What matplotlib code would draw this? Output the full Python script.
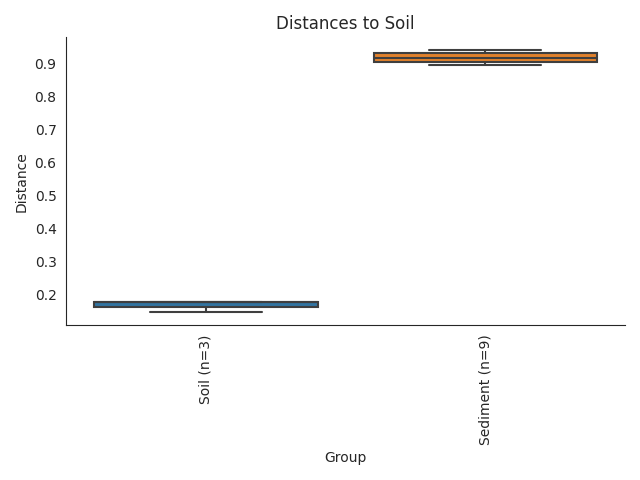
import numpy as np
import pandas as pd
import matplotlib
matplotlib.use("Agg")
import matplotlib.pyplot as plt
import seaborn as sns

groups = ["Soil (n=3)", "Sediment (n=9)"]
soil = [0.146, 0.175, 0.175]
sediment = [0.895, 0.900, 0.906, 0.912, 0.918, 0.925, 0.933, 0.937, 0.940]

df = pd.DataFrame({
    "Group": [groups[0]] * len(soil) + [groups[1]] * len(sediment),
    "Distance": soil + sediment,
})

sns.set_style("white")
fig, ax = plt.subplots(figsize=(6.4, 4.8), dpi=100)
sns.boxplot(data=df, x="Group", y="Distance", hue="Group",
            palette=["#1f77b4", "#ff7f0e"], ax=ax, legend=False,
            linewidth=1.5, linecolor="#3f3f3f")
sns.despine()
ax.set_title("Distances to Soil")
plt.xticks(rotation=90)
plt.tight_layout()
plt.savefig("out.png")
